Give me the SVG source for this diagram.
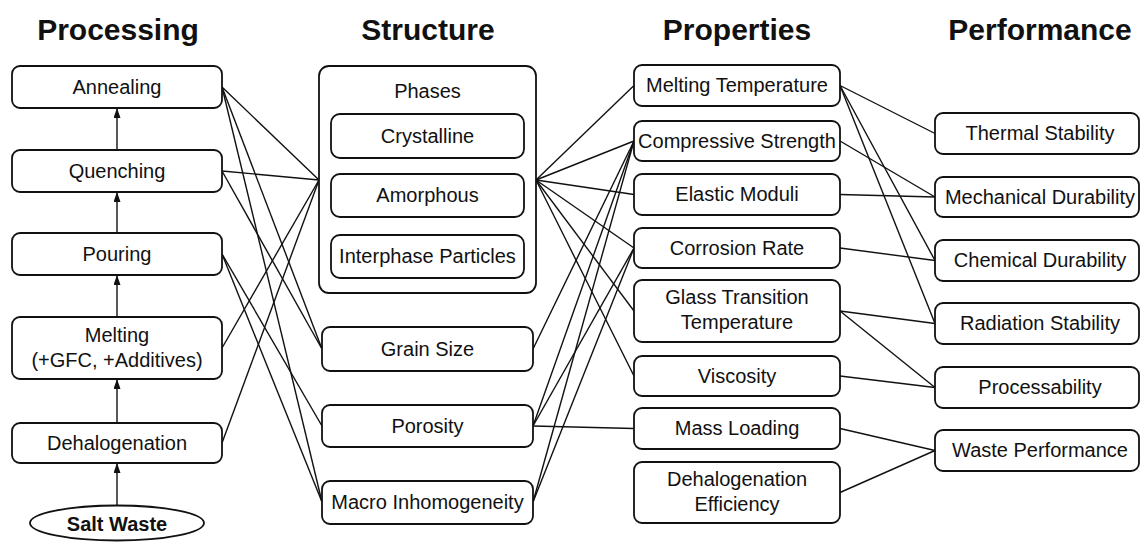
<svg xmlns="http://www.w3.org/2000/svg" width="1140" height="542" viewBox="0 0 1140 542">
<style>
.box{fill:#fff;stroke:#111;stroke-width:1.8}
.lbl{font-family:"Liberation Sans",Arial,sans-serif;font-size:20px;text-anchor:middle;fill:#111}
.hdr{font-family:"Liberation Sans",Arial,sans-serif;font-size:30px;font-weight:bold;text-anchor:middle;fill:#111}
.bold{font-weight:bold}
.edge{stroke:#111;stroke-width:1.4;fill:none}
.arr{stroke:#111;stroke-width:1.4;fill:none;marker-end:url(#ah)}
</style>
<defs>
<marker id="ah" viewBox="0 0 10 7" refX="10" refY="3.5" markerWidth="10" markerHeight="7" markerUnits="userSpaceOnUse" orient="auto">
<path d="M0,0 L10,3.5 L0,7 z" fill="#111"/>
</marker>
</defs>
<rect width="1140" height="542" fill="#fff"/>

<g id="headers">
<text class="hdr" x="118" y="40">Processing</text>
<text class="hdr" x="428" y="40">Structure</text>
<text class="hdr" x="737" y="40">Properties</text>
<text class="hdr" x="1040" y="40">Performance</text>
</g>

<g id="connectors">
<line class="arr" x1="117" y1="150" x2="117" y2="108"/>
<line class="arr" x1="117" y1="233" x2="117" y2="192"/>
<line class="arr" x1="117" y1="317" x2="117" y2="275"/>
<line class="arr" x1="117" y1="423" x2="117" y2="379"/>
<line class="arr" x1="117" y1="505" x2="117" y2="463"/>

<line class="edge" x1="222" y1="87" x2="319" y2="180"/>
<line class="edge" x1="222" y1="87" x2="322" y2="349"/>
<line class="edge" x1="222" y1="87" x2="322" y2="502"/>
<line class="edge" x1="222" y1="171" x2="319" y2="180"/>
<line class="edge" x1="222" y1="171" x2="322" y2="349"/>
<line class="edge" x1="222" y1="254" x2="322" y2="426"/>
<line class="edge" x1="222" y1="254" x2="322" y2="502"/>
<line class="edge" x1="222" y1="348" x2="319" y2="180"/>
<line class="edge" x1="222" y1="443" x2="319" y2="180"/>

<line class="edge" x1="536" y1="180" x2="634" y2="85.5"/>
<line class="edge" x1="536" y1="180" x2="634" y2="141"/>
<line class="edge" x1="536" y1="180" x2="634" y2="194.5"/>
<line class="edge" x1="536" y1="180" x2="634" y2="248"/>
<line class="edge" x1="536" y1="180" x2="634" y2="311"/>
<line class="edge" x1="536" y1="180" x2="634" y2="376"/>
<line class="edge" x1="533" y1="349" x2="634" y2="141"/>
<line class="edge" x1="533" y1="426" x2="634" y2="141"/>
<line class="edge" x1="533" y1="426" x2="634" y2="248"/>
<line class="edge" x1="533" y1="426" x2="634" y2="428.5"/>
<line class="edge" x1="533" y1="502" x2="634" y2="141"/>
<line class="edge" x1="533" y1="502" x2="634" y2="248"/>

<line class="edge" x1="840" y1="85.5" x2="935" y2="133.5"/>
<line class="edge" x1="840" y1="85.5" x2="935" y2="260.5"/>
<line class="edge" x1="840" y1="85.5" x2="935" y2="323.5"/>
<line class="edge" x1="840" y1="141" x2="935" y2="197"/>
<line class="edge" x1="840" y1="194.5" x2="935" y2="197"/>
<line class="edge" x1="840" y1="248" x2="935" y2="260.5"/>
<line class="edge" x1="840" y1="311" x2="935" y2="323.5"/>
<line class="edge" x1="840" y1="311" x2="935" y2="387.5"/>
<line class="edge" x1="840" y1="376" x2="935" y2="387.5"/>
<line class="edge" x1="840" y1="428.5" x2="935" y2="450.5"/>
<line class="edge" x1="840" y1="492.5" x2="935" y2="450.5"/>
</g>

<g id="annealing"><rect class="box" x="12" y="66" width="210" height="42" rx="8"/><text class="lbl" x="117" y="94">Annealing</text></g>
<g id="quenching"><rect class="box" x="12" y="150" width="210" height="42" rx="8"/><text class="lbl" x="117" y="178">Quenching</text></g>
<g id="pouring"><rect class="box" x="12" y="233" width="210" height="42" rx="8"/><text class="lbl" x="117" y="261">Pouring</text></g>
<g id="melting"><rect class="box" x="12" y="317" width="210" height="62" rx="8"/><text class="lbl" x="117" y="342">Melting</text><text class="lbl" x="117" y="367">(+GFC, +Additives)</text></g>
<g id="dehalogenation"><rect class="box" x="12" y="423" width="210" height="40" rx="8"/><text class="lbl" x="117" y="450">Dehalogenation</text></g>
<g id="salt-waste"><ellipse class="box" cx="117" cy="523" rx="87" ry="17.5"/><text class="lbl bold" x="117" y="531">Salt Waste</text></g>

<g id="phases"><rect class="box" x="319" y="66" width="217" height="227" rx="10"/><text class="lbl" x="427.5" y="98">Phases</text></g>
<g id="crystalline"><rect class="box" x="331" y="114" width="193" height="44" rx="9"/><text class="lbl" x="427.5" y="143">Crystalline</text></g>
<g id="amorphous"><rect class="box" x="331" y="174" width="193" height="43" rx="9"/><text class="lbl" x="427.5" y="202">Amorphous</text></g>
<g id="interphase-particles"><rect class="box" x="331" y="235" width="193" height="43" rx="9"/><text class="lbl" x="427.5" y="263">Interphase Particles</text></g>
<g id="grain-size"><rect class="box" x="322" y="327" width="211" height="44" rx="8"/><text class="lbl" x="427.5" y="356">Grain Size</text></g>
<g id="porosity"><rect class="box" x="322" y="405" width="211" height="42" rx="8"/><text class="lbl" x="427.5" y="433">Porosity</text></g>
<g id="macro-inhomogeneity"><rect class="box" x="322" y="481" width="211" height="43" rx="8"/><text class="lbl" x="427.5" y="509">Macro Inhomogeneity</text></g>

<g id="melting-temperature"><rect class="box" x="634" y="65" width="206" height="41" rx="8"/><text class="lbl" x="737" y="92">Melting Temperature</text></g>
<g id="compressive-strength"><rect class="box" x="634" y="121" width="206" height="40" rx="8"/><text class="lbl" x="737" y="148">Compressive Strength</text></g>
<g id="elastic-moduli"><rect class="box" x="634" y="174" width="206" height="41" rx="8"/><text class="lbl" x="737" y="201">Elastic Moduli</text></g>
<g id="corrosion-rate"><rect class="box" x="634" y="228" width="206" height="40" rx="8"/><text class="lbl" x="737" y="255">Corrosion Rate</text></g>
<g id="glass-transition"><rect class="box" x="634" y="280" width="206" height="62" rx="8"/><text class="lbl" x="737" y="304">Glass Transition</text><text class="lbl" x="737" y="329">Temperature</text></g>
<g id="viscosity"><rect class="box" x="634" y="356" width="206" height="40" rx="8"/><text class="lbl" x="737" y="383">Viscosity</text></g>
<g id="mass-loading"><rect class="box" x="634" y="408" width="206" height="41" rx="8"/><text class="lbl" x="737" y="435">Mass Loading</text></g>
<g id="dehalogenation-efficiency"><rect class="box" x="634" y="462" width="206" height="61" rx="8"/><text class="lbl" x="737" y="486">Dehalogenation</text><text class="lbl" x="737" y="511">Efficiency</text></g>

<g id="thermal-stability"><rect class="box" x="935" y="113" width="204" height="41" rx="8"/><text class="lbl" x="1040" y="140">Thermal Stability</text></g>
<g id="mechanical-durability"><rect class="box" x="935" y="177" width="204" height="40" rx="8"/><text class="lbl" x="1040" y="204">Mechanical Durability</text></g>
<g id="chemical-durability"><rect class="box" x="935" y="240" width="204" height="41" rx="8"/><text class="lbl" x="1040" y="267">Chemical Durability</text></g>
<g id="radiation-stability"><rect class="box" x="935" y="303" width="204" height="41" rx="8"/><text class="lbl" x="1040" y="330">Radiation Stability</text></g>
<g id="processability"><rect class="box" x="935" y="367" width="204" height="41" rx="8"/><text class="lbl" x="1040" y="394">Processability</text></g>
<g id="waste-performance"><rect class="box" x="935" y="430" width="204" height="41" rx="8"/><text class="lbl" x="1040" y="457">Waste Performance</text></g>
</svg>
